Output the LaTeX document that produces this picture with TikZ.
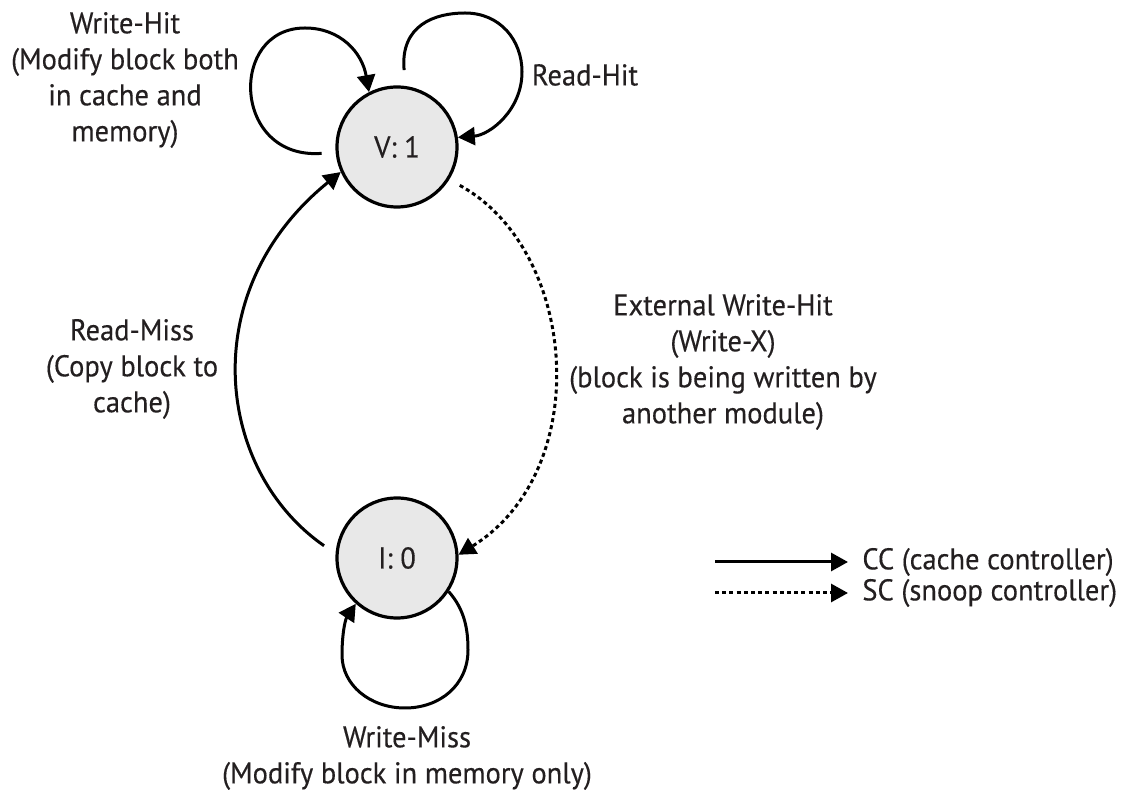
\documentclass[tikz,border=0pt]{standalone}
\usepackage{fontspec}
\setmainfont{PT Sans}[FakeStretch=0.95,FakeBold=0.3]
\usetikzlibrary{arrows.meta}
\definecolor{txt}{HTML}{231F20}

\begin{document}
\begin{tikzpicture}[x=0.5pt,y=-0.5pt]
  \tikzstyle{state}=[circle,draw=black,line width=1.6pt,fill=gray!18,minimum size=60pt,inner sep=0pt,text=txt,font=\fontsize{15}{18}\selectfont]
  \tikzstyle{lbl}=[align=center,text=txt,inner sep=0pt,font=\fontsize{15}{18}\selectfont]
  \tikzstyle{cc}=[line width=1.5pt,-{Triangle[length=8.5pt,width=9pt]}]
  \tikzstyle{sc}=[cc,dash pattern=on 2pt off 1.6pt]
  \useasboundingbox (0,0) rectangle (1125,795);

  % the two states
  \node[state](v) at (397,147){V: 1};
  \node[state](i) at (397,558){I: 0};

  % labels
  \node[lbl](wh) at (125,80){Write-Hit\\(Modify block both\\in cache and\\memory)};
  \node[lbl](rh) at (585,75){Read-Hit};
  \node[lbl](rm) at (132,369){Read-Miss\\(Copy block to\\cache)};
  \node[lbl](ext) at (723,362){External Write-Hit\\(Write-X)\\(block is being written by\\another module)};
  \node[lbl](wm) at (407,758){Write-Miss\\(Modify block in memory only)};

  % self loops on V
  \draw[cc,shorten <=7pt] (v.185) .. controls (232,160) and (228,28) .. (305,28)
    .. controls (340,28) and (362,52) .. (v.117);
  \draw[cc,shorten <=8pt] (v.82) .. controls (400,25) and (435,13) .. (465,13)
    .. controls (500,13) and (522,40) .. (522,72)
    .. controls (522,110) and (490,135) .. (v.9);

  % transitions between the states
  \draw[cc,shorten <=7pt] (i.176) .. controls (215,470) and (195,290) .. (v.204);
  \draw[sc,shorten <=6pt] (v.-32) .. controls (578,250) and (595,470) .. (i.3);

  % self loop on I
  \draw[cc] (i.-33) .. controls (465,610) and (468,630) .. (468,650)
    .. controls (468,685) and (440,708) .. (405,708)
    .. controls (370,708) and (342,685) .. (342,655)
    .. controls (342,635) and (345,620) .. (i.228);

  % legend
  \coordinate (ccfrom) at (715,562);
  \coordinate (scfrom) at (715,593);
  \node[lbl,anchor=west](ccl) at (862,562){CC (cache controller)};
  \node[lbl,anchor=west](scl) at (862,593){SC (snoop controller)};
  \draw[cc,shorten >=7pt] (ccfrom) -- (ccl.west);
  \draw[sc,shorten >=7pt] (scfrom) -- (scl.west);
\end{tikzpicture}
\end{document}
